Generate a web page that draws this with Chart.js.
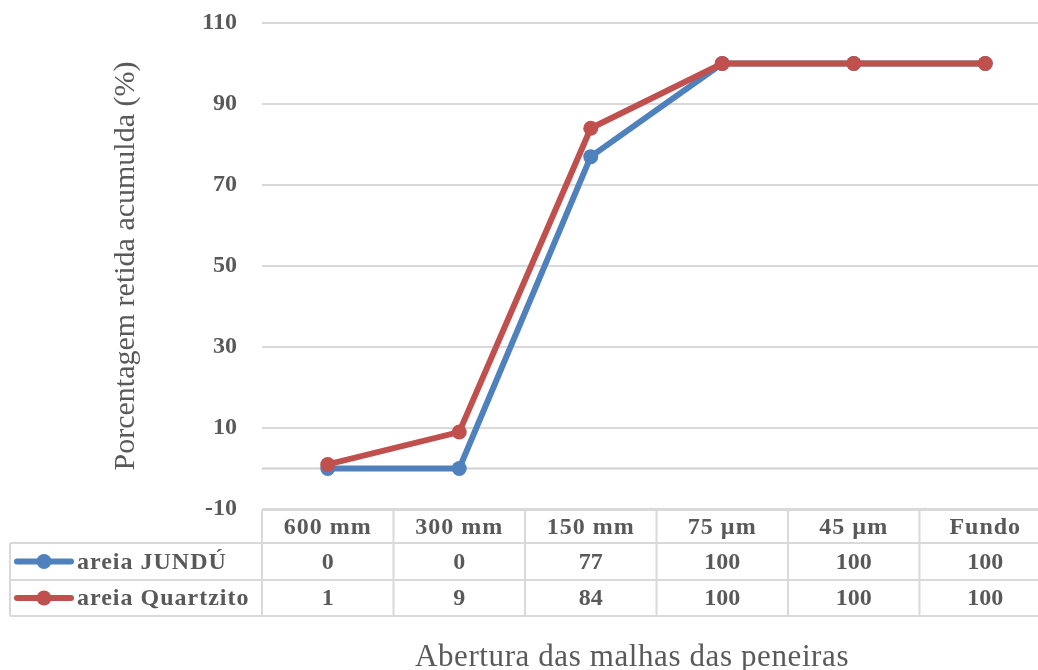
<!DOCTYPE html>
<html>
<head>
<meta charset="utf-8">
<script src="https://cdn.jsdelivr.net/npm/chart.js@4/dist/chart.umd.min.js"></script>
<style>
  html, body { margin: 0; padding: 0; background: #fff; overflow: hidden; }
  #wrap { width: 1060px; height: 670px; position: relative; }
</style>
</head>
<body>
<div id="wrap"><canvas id="c"></canvas></div>
<script>
// Sieve openings (categories)
const categories = ['600 mm', '300 mm', '150 mm', '75 µm', '45 µm', 'Fundo'];
// Cumulative retained percentage per sand
const jundu = [0, 0, 77, 100, 100, 100];
const quartzito = [1, 9, 84, 100, 100, 100];
const seriesNames = ['areia JUNDÚ', 'areia Quartzito'];
// Y axis range
const yMin = -10, yMax = 110, yStep = 20;

const BLUE = '#4f81bd';
const RED = '#c0504d';
const TEXT = '#595959';
const GRID = '#d9d9d9';
const SERIF = '"Liberation Serif", "Times New Roman", serif';

// Draws the data table under the plot, the zero axis line and the x-axis title
const tablePlugin = {
  id: 'dataTable',
  beforeDatasetsDraw(chart) {
    const { ctx, chartArea, scales } = chart;
    const y0 = scales.y.getPixelForValue(0);
    ctx.save();
    ctx.strokeStyle = '#d0d0d0';
    ctx.lineWidth = 2;
    ctx.beginPath();
    ctx.moveTo(chartArea.left, y0);
    ctx.lineTo(chartArea.right, y0);
    ctx.stroke();
    ctx.restore();
  },
  afterDraw(chart) {
    const { ctx, chartArea, scales } = chart;
    const x = scales.x;
    const left = chartArea.left, right = chartArea.right;
    const top = chartArea.bottom + 1;
    const rowH = [33, 37, 36];
    const r1 = top + rowH[0], r2 = r1 + rowH[1], r3 = r2 + rowH[2];
    const outerLeft = 10;
    const colW = (right - left) / categories.length;

    ctx.save();
    ctx.strokeStyle = GRID;
    ctx.lineWidth = 2;
    ctx.beginPath();
    ctx.moveTo(left, top); ctx.lineTo(right, top);
    [r1, r2, r3].forEach(yy => { ctx.moveTo(outerLeft, yy); ctx.lineTo(right, yy); });
    ctx.moveTo(outerLeft, r1); ctx.lineTo(outerLeft, r3);
    for (let i = 0; i <= categories.length; i++) {
      const xx = left + i * colW;
      ctx.moveTo(xx, top); ctx.lineTo(xx, r3);
    }
    ctx.stroke();

    ctx.fillStyle = TEXT;
    ctx.font = 'bold 24px ' + SERIF;
    ctx.textAlign = 'center';
    ctx.textBaseline = 'middle';
    const rows = [jundu, quartzito];
    categories.forEach((c, i) => {
      const cx = x.getPixelForValue(i);
      ctx.letterSpacing = '1px';
      ctx.fillText(c, cx, (top + r1) / 2 + 1);
      ctx.letterSpacing = '0px';
      ctx.fillText(String(rows[0][i]), cx, (r1 + r2) / 2 + 1);
      ctx.fillText(String(rows[1][i]), cx, (r2 + r3) / 2 + 1);
    });

    // legend keys
    const keys = [[BLUE, (r1 + r2) / 2], [RED, (r2 + r3) / 2]];
    keys.forEach(([col, yy], k) => {
      ctx.strokeStyle = col;
      ctx.lineWidth = 6;
      ctx.lineCap = 'round';
      ctx.beginPath();
      ctx.moveTo(17, yy); ctx.lineTo(71, yy);
      ctx.stroke();
      ctx.fillStyle = col;
      ctx.beginPath();
      ctx.arc(44, yy, 7.5, 0, Math.PI * 2);
      ctx.fill();
      ctx.fillStyle = TEXT;
      ctx.textAlign = 'left';
      ctx.letterSpacing = '1px';
      ctx.fillText(seriesNames[k], 77, yy + 1);
    });

    // x-axis title
    ctx.fillStyle = TEXT;
    ctx.font = '31px ' + SERIF;
    ctx.letterSpacing = '0.6px';
    ctx.textAlign = 'center';
    ctx.textBaseline = 'alphabetic';
    ctx.fillText('Abertura das malhas das peneiras', 632, 666);
    ctx.restore();
  }
};

new Chart(document.getElementById('c'), {
  type: 'line',
  data: {
    labels: categories,
    datasets: [
      { label: seriesNames[0], data: jundu, borderColor: BLUE, backgroundColor: BLUE, order: 1,
        borderWidth: 6, pointRadius: 7.5, pointHoverRadius: 7.5, pointBorderWidth: 0, tension: 0 },
      { label: seriesNames[1], data: quartzito, borderColor: RED, backgroundColor: RED, order: 0,
        borderWidth: 6, pointRadius: 7.5, pointHoverRadius: 7.5, pointBorderWidth: 0, tension: 0 }
    ]
  },
  options: {
    responsive: true,
    maintainAspectRatio: false,
    animation: false,
    layout: { padding: { top: 23, bottom: 161, left: 0, right: 9 } },
    plugins: { legend: { display: false }, tooltip: { enabled: false } },
    scales: {
      x: {
        display: false,
        offset: true
      },
      y: {
        min: yMin, max: yMax,
        afterFit(scale) {
          scale.width = 262;
          scale.paddingTop = 0;
          scale.paddingBottom = 0;
        },
        ticks: {
          stepSize: yStep,
          color: TEXT,
          font: { family: SERIF, size: 24, weight: 'bold' },
          padding: 25
        },
        grid: { color: GRID, lineWidth: 2, drawTicks: false },
        border: { display: false },
        title: {
          display: true,
          text: 'Porcentagem retida acumulda (%)',
          color: TEXT,
          font: { family: SERIF, size: 30 },
          padding: { top: 108, bottom: 0 }
        }
      }
    }
  },
  plugins: [tablePlugin]
});
</script>
</body>
</html>
